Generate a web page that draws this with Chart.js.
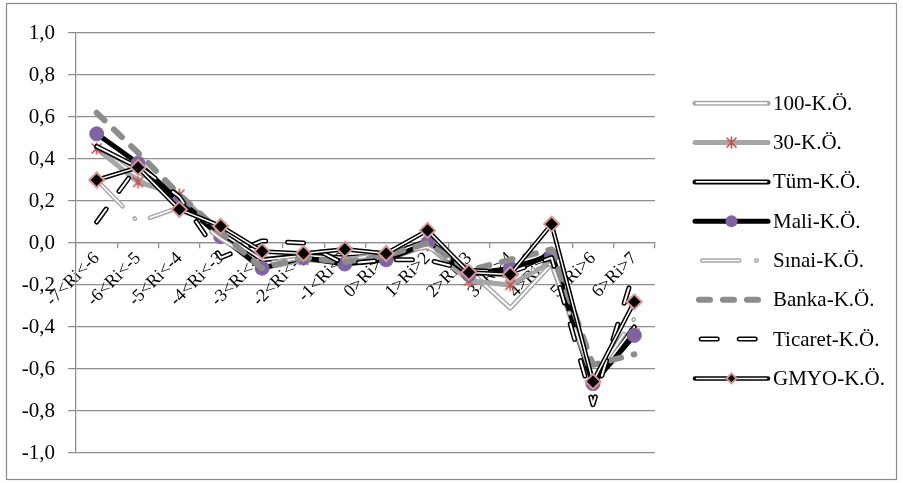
<!DOCTYPE html>
<html>
<head>
<meta charset="utf-8">
<script src="https://cdn.jsdelivr.net/npm/chart.js@4.4.1/dist/chart.umd.min.js"></script>
<style>
  html, body { margin: 0; padding: 0; background: #ffffff; }
  canvas { display: block; }
</style>
</head>
<body>
<canvas id="chart" width="903" height="483"></canvas>
<script>
// Return bands
const categories = ['-7<Ri<-6', '-6<Ri<-5', '-5<Ri<-4', '-4<Ri<-3', '-3<Ri<-2', '-2<Ri<-1', '-1<Ri<0',
                    '0>Ri>1', '1>Ri>2', '2>Ri>3', '3>Ri>4', '4>Ri>5', '5>Ri>6', '6>Ri>7'];

// Series values per band
const ko100   = [0.45, 0.32, 0.21, 0.04, -0.10, -0.07, -0.08, -0.06, -0.01, -0.13, -0.31, -0.10, -0.65, -0.40];
const ko30    = [0.45, 0.29, 0.23, 0.04, -0.12, -0.08, -0.09, -0.08, -0.01, -0.18, -0.20, -0.09, -0.66, -0.43];
const tum     = [0.46, 0.36, 0.20, 0.05, -0.08, -0.06, -0.07, -0.06,  0.01, -0.13, -0.14, -0.05, -0.66, -0.40];
const mali    = [0.52, 0.38, 0.20, 0.03, -0.12, -0.07, -0.10, -0.08,  0.00, -0.15, -0.12, -0.06, -0.67, -0.44];
const sinai   = [0.30, 0.10, 0.17, 0.02, -0.10, -0.07, -0.08, -0.05, -0.02, -0.13, -0.16, -0.10, -0.65, -0.36];
const banka   = [0.62, 0.43, 0.23, 0.05, -0.12, -0.07, -0.09, -0.06,  0.00, -0.13, -0.08, -0.03, -0.58, -0.53];
const ticaret = [0.10, 0.37, 0.22, -0.07, 0.01, 0.00, -0.10, -0.08, -0.08, -0.13, -0.14, -0.07, -0.77, -0.13];
const gmyo    = [0.30, 0.36, 0.16, 0.08, -0.04, -0.05, -0.03, -0.05,  0.06, -0.14, -0.15,  0.09, -0.66, -0.28];

const seriesNames  = ['100-K.Ö.', '30-K.Ö.', 'Tüm-K.Ö.', 'Mali-K.Ö.', 'Sınai-K.Ö.', 'Banka-K.Ö.', 'Ticaret-K.Ö.', 'GMYO-K.Ö.'];
const seriesValues = [ko100, ko30, tum, mali, sinai, banka, ticaret, gmyo];

// Y axis ticks
const yMin = -1.0, yMax = 1.0, yStep = 0.2;

// Asterisk-like marker glyph
function makeStar(size, color) {
  const c = document.createElement('canvas');
  c.width = size; c.height = size;
  const g = c.getContext('2d');
  g.strokeStyle = color; g.lineWidth = 1.6; g.lineCap = 'butt';
  const m = 1.5, e = size - 1.5, h = size / 2;
  g.beginPath();
  g.moveTo(m, m); g.lineTo(e, e);
  g.moveTo(e, m); g.lineTo(m, e);
  g.moveTo(h, 0.5); g.lineTo(h, size - 0.5);
  g.stroke();
  return c;
}
const starGlyph = makeStar(13, '#c0504d');

// Line appearance per series (index-aligned with seriesNames)
const seriesStyle = [
  { color: '#a6a6a6', width: 5,   inner: 2 },
  { color: '#a6a6a6', width: 5,   marker: { style: starGlyph, radius: 6, legendRadius: 6 } },
  { color: '#000000', width: 5,   inner: 1.8 },
  { color: '#000000', width: 5,   marker: { style: 'circle', radius: 7, legendRadius: 6, fill: '#8064a2', border: '#8064a2', borderWidth: 1 } },
  { color: '#a6a6a6', width: 4.5, inner: 1.6, dash: [37, 17, 0.5, 17], legendOffset: 64.25 },
  { color: '#8c8c8c', width: 6,   dash: [11, 13], legendOffset: 20 },
  { color: '#000000', width: 5,   inner: 2, dash: [16, 22], legendOffset: 31.8 },
  { color: '#000000', width: 4.5, inner: 1.5, marker: { style: 'rectRot', radius: 7.5, legendRadius: 5, fill: '#000000', border: '#d99694', borderWidth: 2 } }
];

function buildDatasets() {
  const sets = [];
  seriesNames.forEach((name, s) => {
    const st = seriesStyle[s];
    const base = (seriesNames.length - s) * 2;
    const common = {
      label: name,
      data: seriesValues[s],
      fill: false,
      tension: 0,
      borderDash: st.dash || [],
      borderCapStyle: 'round',
      borderJoinStyle: 'round',
      pointRadius: 0,
      pointHoverRadius: 0
    };
    const outer = Object.assign({}, common, {
      borderColor: st.color,
      borderWidth: st.width,
      order: base
    });
    sets.push(outer);
    let top = outer;
    if (st.inner) {
      const inner = Object.assign({}, common, {
        borderColor: '#ffffff',
        borderWidth: st.inner,
        order: base - 1
      });
      sets.push(inner);
      top = inner;
    }
    if (st.marker) {
      const mk = st.marker;
      top.pointStyle = mk.style;
      top.pointRadius = mk.radius;
      top.pointBackgroundColor = mk.fill || 'transparent';
      top.pointBorderColor = mk.border || mk.fill || '#000';
      top.pointBorderWidth = mk.borderWidth || 0;
    }
  });
  return sets;
}

const fontFamily = '"Liberation Serif", "Times New Roman", serif';
const gridColor = '#8e8e8e';

// White page with a thin frame around the whole chart
const framePlugin = {
  id: 'frame',
  beforeDraw(chart) {
    const ctx = chart.ctx;
    ctx.save();
    ctx.fillStyle = '#ffffff';
    ctx.fillRect(0, 0, chart.width, chart.height);
    ctx.strokeStyle = '#8a8a8a';
    ctx.lineWidth = 1.2;
    ctx.strokeRect(6.5, 3.5, 890, 476);
    ctx.restore();
  }
};

// Legend drawn beside the plot with full line styling
function strokeSample(ctx, x0, x1, y, color, width, dash, offset) {
  ctx.beginPath();
  ctx.strokeStyle = color;
  ctx.lineWidth = width;
  ctx.lineCap = 'round';
  ctx.setLineDash(dash || []);
  ctx.lineDashOffset = offset || 0;
  ctx.moveTo(x0, y);
  ctx.lineTo(x1, y);
  ctx.stroke();
}

const sideLegend = {
  id: 'sideLegend',
  afterDraw(chart) {
    const ctx = chart.ctx;
    const x0 = chart.chartArea.right + 40;
    const x1 = x0 + 73;
    const mid = (x0 + x1) / 2;
    const top = 103.3, gap = 39.3;
    seriesNames.forEach((name, s) => {
      const st = seriesStyle[s];
      const y = top + s * gap;
      ctx.save();
      strokeSample(ctx, x0, x1, y, st.color, st.width, st.dash, st.legendOffset);
      if (st.inner) strokeSample(ctx, x0 + (st.dash ? 0 : 1.5), x1 - (st.dash ? 0 : 1.5), y, '#ffffff', st.inner, st.dash, st.legendOffset);
      ctx.setLineDash([]);
      if (st.marker) {
        const mk = st.marker;
        const r = mk.legendRadius;
        if (mk.style === 'circle') {
          ctx.beginPath();
          ctx.arc(mid, y, r, 0, Math.PI * 2);
          ctx.fillStyle = mk.fill; ctx.fill();
        } else if (mk.style === 'rectRot') {
          ctx.beginPath();
          ctx.moveTo(mid - r, y); ctx.lineTo(mid, y - r); ctx.lineTo(mid + r, y); ctx.lineTo(mid, y + r);
          ctx.closePath();
          ctx.fillStyle = mk.fill; ctx.fill();
          ctx.strokeStyle = mk.border; ctx.lineWidth = mk.borderWidth; ctx.stroke();
        } else {
          ctx.drawImage(mk.style, mid - mk.style.width / 2, y - mk.style.height / 2);
        }
      }
      ctx.fillStyle = '#000000';
      ctx.font = '21px ' + fontFamily;
      ctx.textAlign = 'left';
      ctx.textBaseline = 'middle';
      ctx.fillText(name, x1 + 5, y + 1);
      ctx.restore();
    });
  }
};

const fmt = v => {
  const s = Number(v).toFixed(1).replace('.', ',');
  return s === '-0,0' ? '0,0' : s;
};

new Chart(document.getElementById('chart'), {
  type: 'line',
  data: { labels: categories, datasets: buildDatasets() },
  options: {
    responsive: false,
    animation: false,
    devicePixelRatio: 1,
    layout: { padding: { left: 0, top: 33, right: 248, bottom: 30 } },
    plugins: {
      legend: { display: false },
      tooltip: { enabled: false }
    },
    elements: { line: { borderJoinStyle: 'round' } },
    scales: {
      x: {
        type: 'category',
        position: { y: 0 },
        offset: true,
        grid: {
          offset: true,
          drawOnChartArea: false,
          drawTicks: true,
          tickLength: 5,
          color: gridColor,
          lineWidth: 1.25
        },
        border: { display: true, color: gridColor, width: 1.25 },
        ticks: {
          autoSkip: false,
          maxRotation: 45,
          minRotation: 45,
          padding: 0,
          color: '#000000',
          font: { family: fontFamily, size: 18 }
        },
        afterFit(scale) { scale.height = 0; }
      },
      y: {
        min: yMin,
        max: yMax,
        grid: {
          color: gridColor,
          lineWidth: 1.25,
          drawTicks: true,
          tickLength: 8
        },
        border: { display: true, color: gridColor, width: 1.25 },
        ticks: {
          stepSize: yStep,
          padding: 13,
          color: '#000000',
          font: { family: fontFamily, size: 21 },
          callback: v => fmt(v)
        },
        afterFit(scale) { scale.width = 76; }
      }
    }
  },
  plugins: [framePlugin, sideLegend]
});
</script>
</body>
</html>
